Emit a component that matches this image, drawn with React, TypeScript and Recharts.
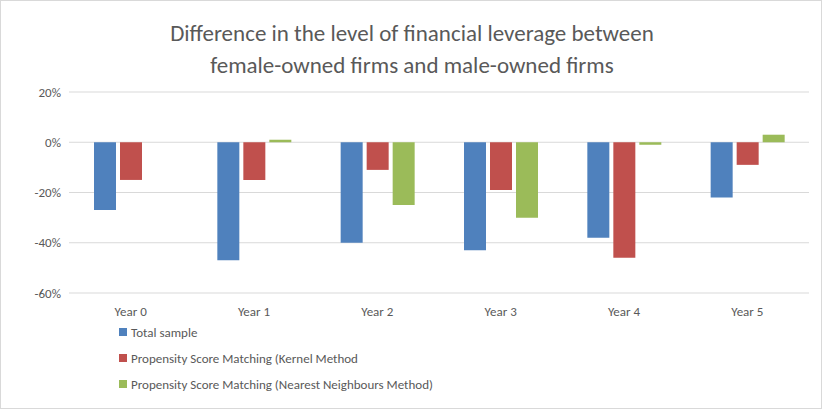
import React from "react";
import { BarChart, Bar, XAxis, YAxis, CartesianGrid } from "recharts";

const years = ["Year 0", "Year 1", "Year 2", "Year 3", "Year 4", "Year 5"];
const totalSample = [-27, -47, -40, -43, -38, -22];
const kernel = [-15, -15, -11, -19, -46, -9];
const nearest = [0, 1, -25, -30, -1, 3];
const yTicks = [20, 0, -20, -40, -60];

const series = [
  { key: "total", name: "Total sample", color: "#4f81bd" },
  { key: "kernel", name: "Propensity Score Matching (Kernel Method", color: "#c0504d" },
  { key: "nearest", name: "Propensity Score Matching (Nearest Neighbours Method)", color: "#9bbb59" },
];

const data = years.map((y, i) => ({
  year: y,
  total: totalSample[i],
  kernel: kernel[i],
  nearest: nearest[i],
}));

const font = "Calibri, Carlito, 'Open Sans', sans-serif";

function LegendList() {
  return (
    <div
      style={{
        position: "absolute", left: 118, top: 318,
        fontFamily: font, fontSize: 13, color: "#595959",
      }}
    >
      {series.map((s) => (
        <div key={s.key} style={{ display: "flex", alignItems: "center", height: 26 }}>
          <span style={{ width: 8, height: 8, background: s.color, marginRight: 4 }} />
          {s.name}
        </div>
      ))}
    </div>
  );
}

export default function App() {
  return (
    <div
      style={{
        position: "absolute", top: 0, left: 0, width: 822, height: 409,
        background: "#fff", border: "1px solid #d9d9d9", boxSizing: "border-box",
      }}
    >
      <div
        style={{
          position: "absolute", top: 16, left: 0, width: 822, textAlign: "center",
          fontFamily: font, fontSize: 23, color: "#595959", lineHeight: "32px",
        }}
      >
        Difference in the level of financial leverage between
        <br />
        female-owned firms and male-owned firms
      </div>
      <BarChart
        width={822}
        height={409}
        data={data}
        margin={{ top: 91, right: 14, bottom: 87, left: 8 }}
        barGap={4}
        barSize={22}
      >
        <CartesianGrid vertical={false} stroke="#d9d9d9" />
        <XAxis
          dataKey="year"
          height={30}
          axisLine={false}
          tickLine={false}
          tick={{ fill: "#595959", fontSize: 13, fontFamily: font }}
          dy={6}
        />
        <YAxis
          domain={[-60, 20]}
          ticks={yTicks}
          width={60}
          axisLine={false}
          tickLine={false}
          tickFormatter={(v) => `${v}%`}
          tick={{ fill: "#595959", fontSize: 13, fontFamily: font }}
        />
        {series.map((s) => (
          <Bar key={s.key} dataKey={s.key} name={s.name} fill={s.color} isAnimationActive={false} />
        ))}
      </BarChart>
      <LegendList />
    </div>
  );
}
